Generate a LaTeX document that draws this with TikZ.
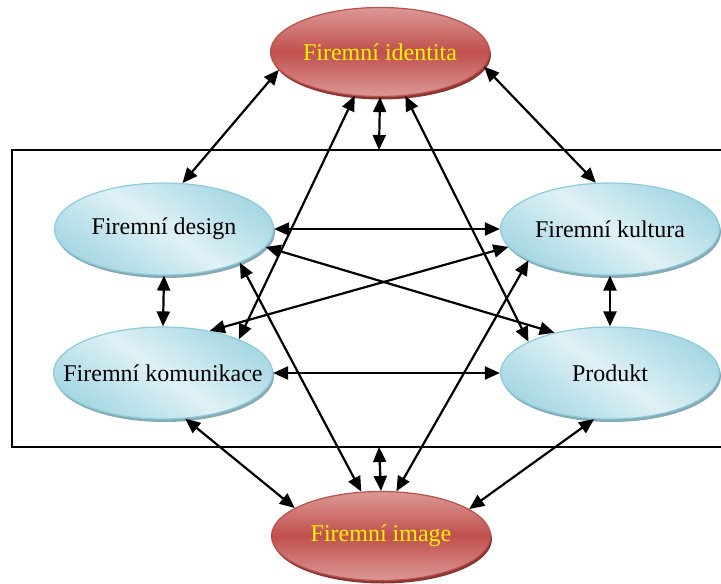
\documentclass[tikz,border=0pt]{standalone}
\usepackage{fontspec}
\setmainfont{Liberation Serif}
\usetikzlibrary{arrows.meta, shapes.geometric, shadows}

\definecolor{redrim}{HTML}{B9504C}
\definecolor{redlight}{HTML}{DC9896}
\definecolor{redmid}{HTML}{C0504D}
\definecolor{redshadow}{HTML}{8A3633}
\definecolor{bluerim}{HTML}{8CCBDB}
\definecolor{bluedark}{HTML}{A6D7E3}
\definecolor{bluelight}{HTML}{DFF1F5}
\definecolor{blueshadow}{HTML}{86A9B3}

\begin{document}
\begin{tikzpicture}[x=1pt, y=-1pt,
  redoval/.style={ellipse, inner sep=0pt, minimum width=219pt, minimum height=89pt,
    draw=redrim, line width=1.2pt, top color=redlight, bottom color=redlight, middle color=redmid,
    drop shadow={shadow xshift=1.5pt, shadow yshift=-3pt, opacity=1, fill=redshadow},
    text=yellow, font=\fontsize{24}{28}\selectfont},
  blueoval/.style={ellipse, inner sep=0pt, minimum width=219pt, minimum height=92pt,
    draw=bluerim, line width=1.2pt, top color=bluedark, bottom color=bluedark, middle color=bluelight,
    shading angle=-35,
    drop shadow={shadow xshift=1.5pt, shadow yshift=-3pt, opacity=1, fill=blueshadow},
    text=black, font=\fontsize{24}{28}\selectfont},
  link/.style={{Triangle[length=15pt,width=13pt]}-{Triangle[length=15pt,width=13pt]}, line width=2.2pt}]
\useasboundingbox (0,0) rectangle (721,584);

% frame round the four inner parts
\draw[line width=1.5pt] (721,150) -- (12,150) -- (12,447) -- (721,447);
\coordinate (frametop) at (379,150);
\coordinate (framebot) at (379,447);

\node[redoval] (identita) at (380,52) {Firemní identita};
\node[redoval] (image) at (381,536) {Firemní image};
\node[blueoval] (design) at (164,229) {Firemní design};
\node[blueoval] (kultura) at (610,229) {Firemní kultura};
\node[blueoval] (komunikace) at (163,373) {\makebox[0pt]{Firemní komunikace}};
\node[blueoval] (produkt) at (610,373) {Produkt};

\draw[link] (identita.190) -- (design.68);
\draw[link] (identita.352) -- (kultura.107);
\draw[link] (identita.south) -- (frametop);
\draw[link] (identita.240) -- (komunikace.24);
\draw[link] (identita.300) -- (produkt.159);

\draw[link] (design.east) -- (kultura.west);
\draw[link] (design.south) -- (komunikace.north);
\draw[link] (design.350) -- (produkt.144);
\draw[link] (design.336) -- (image.114);

\draw[link] (kultura.190) -- (komunikace.42);
\draw[link] (kultura.201) -- (image.71);
\draw[link] (kultura.south) -- (produkt.north);

\draw[link] (komunikace.east) -- (produkt.west);
\draw[link] (komunikace.296) -- (image.162);
\draw[link] (produkt.251) -- (image.17);
\draw[link] (framebot) -- (image.north);
\end{tikzpicture}
\end{document}
